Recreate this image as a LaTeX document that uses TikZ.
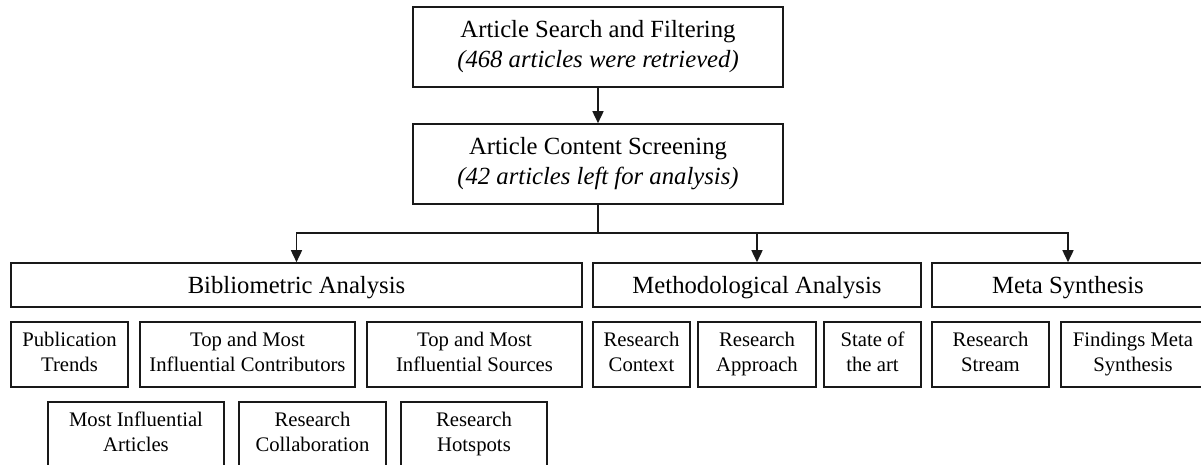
\documentclass[tikz,border=0pt]{standalone}
\usepackage{fontspec}
\setmainfont{Liberation Serif}
\usetikzlibrary{arrows.meta}
\newcommand\mybstrut{\rule[-0.2\baselineskip]{0pt}{\baselineskip}}
\tikzset{
  box/.style={draw=black!90, line width=0.8pt, rectangle, inner sep=0pt, align=center,
    execute at begin node=\mybstrut, execute at end node=\mybstrut},
  topbox/.style={box, minimum width=185pt, minimum height=40pt, font=\fontsize{12.35}{14.8}\selectfont},
  midbox/.style={box, minimum height=22pt, font=\fontsize{12.35}{14.8}\selectfont},
  subbox/.style={box, minimum height=32.5pt, font=\fontsize{10.35}{12.5}\selectfont},
  conn/.style={draw=black!90, line width=0.8pt},
  arr/.style={conn, -{Triangle[length=6pt,width=5.5pt]}}
}
\begin{document}
\begin{tikzpicture}[x=0.5pt,y=-0.5pt]
\useasboundingbox (0,0) rectangle (1201,465);
\clip (0,0) rectangle (1201,465);
\node[topbox] (search) at (598,47) {Article Search and Filtering\\\textit{(468 articles were retrieved)}};
\node[topbox] (screen) at (598,164) {Article Content Screening\\\textit{(42 articles left for analysis)}};
\coordinate (j) at (598,233);
\node[midbox, minimum width=285.5pt] (bib) at (296.5,285) {Bibliometric Analysis};
\node[midbox, minimum width=164pt] (meth) at (757,285) {Methodological Analysis};
\node[midbox, minimum width=136pt] (meta) at (1068,285) {Meta Synthesis};
\node[subbox, minimum width=58.5pt] (pub) at (69.5,354.5) {Publication\\Trends};
\node[subbox, minimum width=107.5pt] (contrib) at (247.5,354.5) {Top and Most\\Influential Contributors};
\node[subbox, minimum width=107.5pt] (sources) at (474.5,354.5) {Top and Most\\Influential Sources};
\node[subbox, minimum width=48.5pt] (context) at (641.5,354.5) {Research\\Context};
\node[subbox, minimum width=59pt] (approach) at (757,354.5) {Research\\Approach};
\node[subbox, minimum width=48.5pt] (state) at (872.5,354.5) {State of\\the art};
\node[subbox, minimum width=58.5pt] (stream) at (990.5,354.5) {Research\\Stream};
\node[subbox, minimum width=72pt] (findings) at (1133,354.5) {Findings Meta\\Synthesis};
\node[subbox, minimum width=88pt] (articles) at (136,434.5) {Most Influential\\Articles};
\node[subbox, minimum width=73.5pt] (collab) at (312.5,434.5) {Research\\Collaboration};
\node[subbox, minimum width=73pt] (hot) at (474,434.5) {Research\\Hotspots};
\draw[arr] (search.south) -- (screen.north);
\draw[conn] (screen.south) -- (j);
\draw[arr] (j) -| (bib.north);
\draw[arr] (j) -| (meth.north);
\draw[arr] (j) -| (meta.north);
\end{tikzpicture}
\end{document}
